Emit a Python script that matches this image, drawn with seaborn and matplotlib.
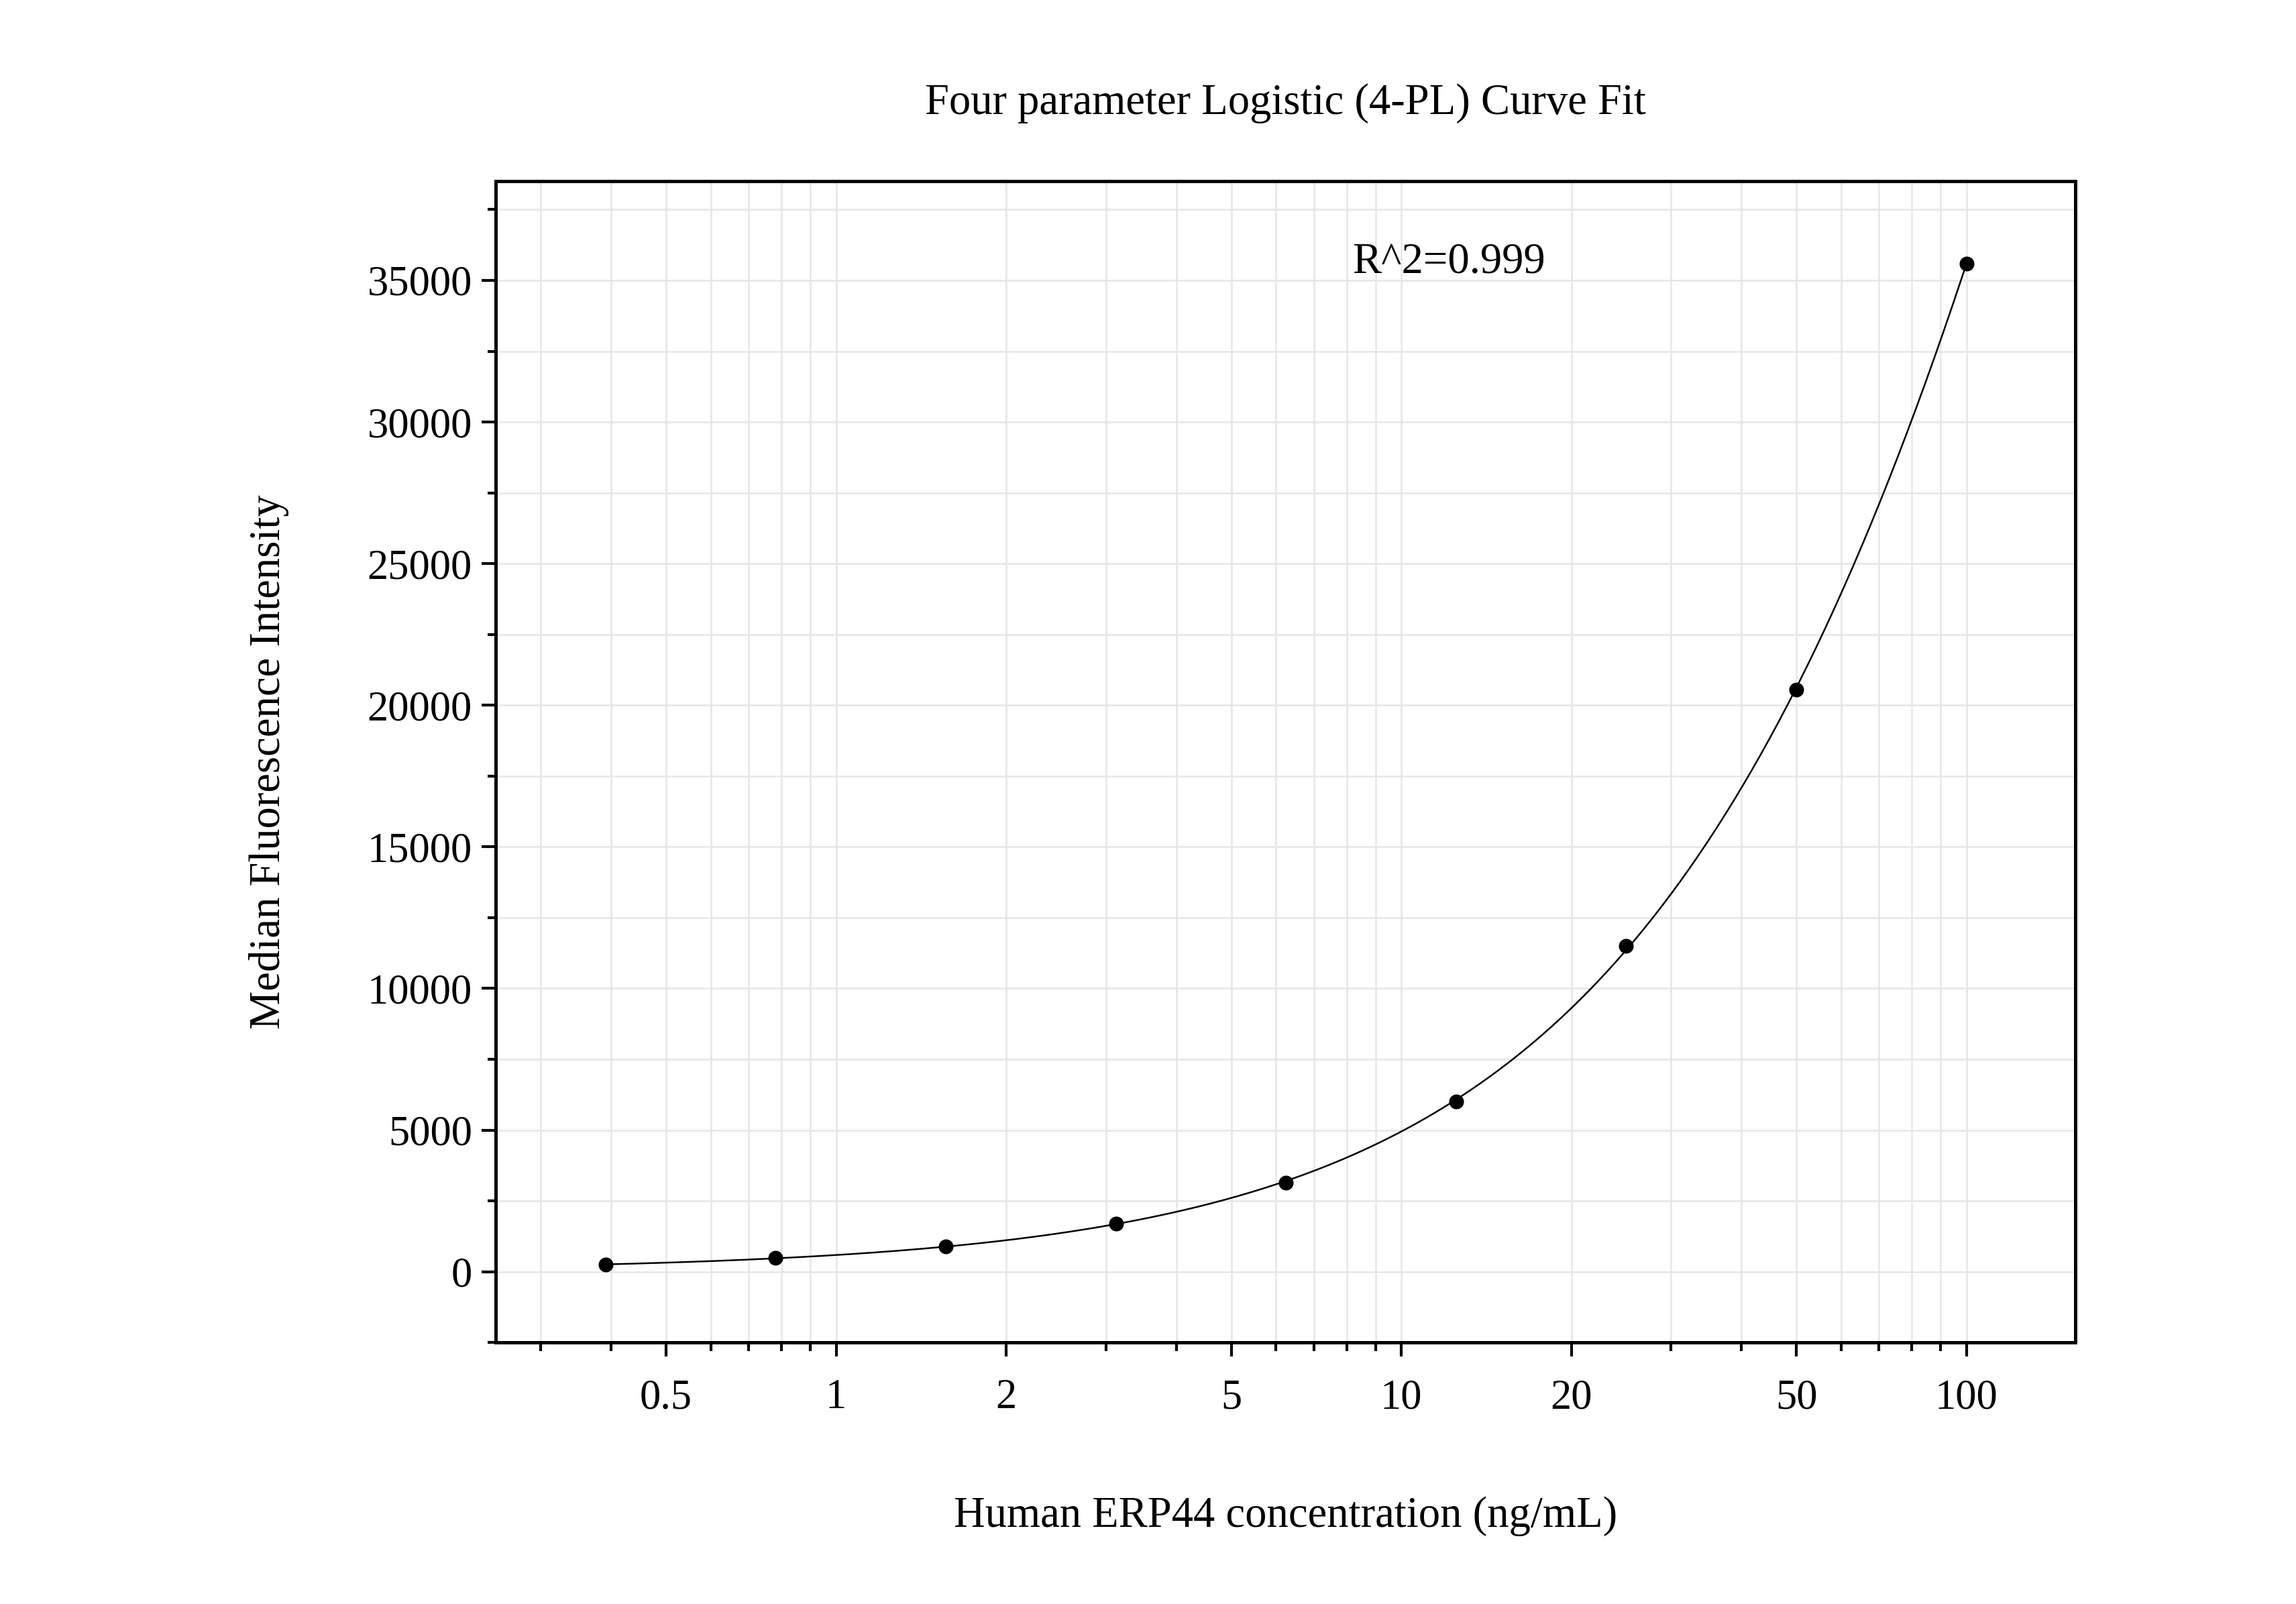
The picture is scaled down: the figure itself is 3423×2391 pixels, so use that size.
import numpy as np
import pandas as pd
import seaborn as sns
import matplotlib
matplotlib.use("Agg")
import matplotlib.pyplot as plt
from matplotlib.ticker import FixedLocator, NullFormatter, MultipleLocator

conc = [0.390625, 0.78125, 1.5625, 3.125, 6.25, 12.5, 25, 50, 100]
mfi = [250, 500, 900, 1700, 3150, 6000, 11500, 20550, 35600]
xticks = [0.5, 1, 2, 5, 10, 20, 50, 100]
xticklabels = ["0.5", "1", "2", "5", "10", "20", "50", "100"]

# 4PL fit (Levenberg-Marquardt with numpy)
x = np.array(conc, float); y = np.array(mfi, float)
def f(p, x):
    a, b, c, d = p
    return d + (a - d) / (1 + (x / c) ** b)
p = np.array([100.0, 1.2, 300.0, 120000.0])
lam = 1e-3
for _ in range(5000):
    r = y - f(p, x)
    J = np.zeros((len(x), 4))
    for i in range(4):
        dp = np.zeros(4); h = 1e-6 * max(abs(p[i]), 1e-3); dp[i] = h
        J[:, i] = (f(p + dp, x) - f(p - dp, x)) / (2 * h)
    A = J.T @ J; g = J.T @ r
    step = np.linalg.solve(A + lam * np.diag(np.diag(A)), g)
    pn = p + step
    if pn[2] > 0 and np.sum((y - f(pn, x)) ** 2) < np.sum(r ** 2):
        p = pn; lam *= 0.5
    else:
        lam *= 5
xs = np.logspace(np.log10(conc[0]), np.log10(conc[-1]), 300)
fit = pd.DataFrame({"x": xs, "y": f(p, xs)})
pts = pd.DataFrame({"x": conc, "y": mfi})

plt.rcParams["font.family"] = "Liberation Serif"
fig = plt.figure(figsize=(3423/300, 2391/300), dpi=300)
ax = fig.add_axes([0.216, 0.163, 0.688, 0.724])
ax.set_xscale("log")
sns.lineplot(data=fit, x="x", y="y", ax=ax, color="black", linewidth=0.6)
sns.scatterplot(data=pts, x="x", y="y", ax=ax, color="black", s=24, edgecolor="black", zorder=5)
ax.set_xlim(0.25, 156)
ax.set_ylim(-2500, 38500)
ax.xaxis.set_major_locator(FixedLocator(xticks))
ax.set_xticklabels(xticklabels)
ax.xaxis.set_minor_formatter(NullFormatter())
ax.yaxis.set_major_locator(MultipleLocator(5000))
ax.yaxis.set_minor_locator(MultipleLocator(2500))
ax.grid(True, which="both", color="#e6e6e6", linewidth=0.6)
ax.set_axisbelow(True)
for s in ax.spines.values():
    s.set_linewidth(1.2)
ax.tick_params(which="both", direction="out", labelsize=15, width=1.0)
ax.tick_params(which="major", length=5)
ax.tick_params(which="minor", length=3)
ax.tick_params(axis="x", pad=8)
ax.set_xlabel("Human ERP44 concentration (ng/mL)", fontsize=15.5, labelpad=28)
ax.set_ylabel("Median Fluorescence Intensity", fontsize=15.5, labelpad=28)
ax.set_title("Four parameter Logistic (4-PL) Curve Fit", fontsize=15.5, pad=24)
ax.text(0.542, 0.93, "R^2=0.999", transform=ax.transAxes, fontsize=15.5, va="center")
fig.savefig("out.png", dpi=300)
